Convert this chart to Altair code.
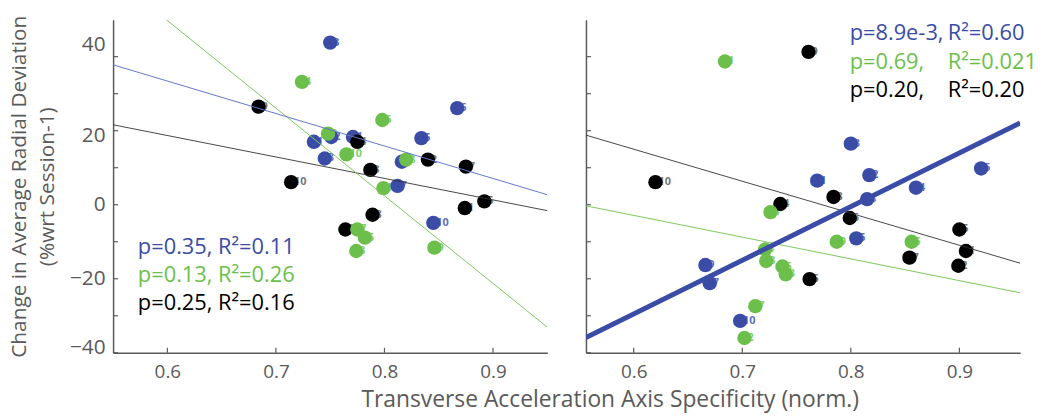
import altair as alt
import pandas as pd

BLUE = "#3a4ca6"
GREEN = "#6cbf4a"
BLACK = "#000000"
AXIS_GRAY = "#5a5a5a"
FONT = "Open Sans"

# ---------------- left panel data ----------------
L_blue_x = [0.750, 0.867, 0.735, 0.751, 0.771, 0.745, 0.834, 0.816, 0.812, 0.845]
L_blue_y = [43.8, 26.1, 17.0, 18.3, 18.3, 12.5, 18.0, 11.6, 5.1, -4.9]
L_blue_id = ["3", "6", "1", "2", "4", "8", "5", "9", "7", "10"]
L_green_x = [0.724, 0.798, 0.748, 0.765, 0.820, 0.799, 0.775, 0.782, 0.774, 0.846]
L_green_y = [33.2, 22.9, 19.2, 13.6, 12.2, 4.5, -6.7, -8.9, -12.5, -11.6]
L_green_id = ["4", "6", "2", "10", "8", "1", "7", "5", "3", "9"]
L_black_x = [0.684, 0.775, 0.840, 0.875, 0.787, 0.714, 0.892, 0.874, 0.789, 0.764]
L_black_y = [26.5, 17.0, 12.2, 10.3, 9.4, 6.1, 0.9, -0.9, -2.7, -6.7]
L_black_id = ["9", "4", "2", "7", "3", "10", "5", "1", "8", "6"]

L_fit_x = {"blue": [0.55, 0.95], "green": [0.599, 0.95], "black": [0.55, 0.95]}
L_fit_y = {"blue": [37.8, 2.7], "green": [50.0, -33.1], "black": [21.6, -1.6]}

L_ann = ["p=0.35, R²=0.11", "p=0.13, R²=0.26", "p=0.25, R²=0.16"]

# ---------------- right panel data ----------------
R_blue_x = [0.800, 0.920, 0.769, 0.817, 0.860, 0.815, 0.805, 0.666, 0.670, 0.698]
R_blue_y = [16.5, 9.8, 6.5, 8.0, 4.6, 1.5, -9.1, -16.3, -21.2, -31.4]
R_blue_id = ["3", "6", "1", "2", "4", "8", "5", "9", "7", "10"]
R_green_x = [0.684, 0.726, 0.787, 0.856, 0.721, 0.722, 0.737, 0.740, 0.712, 0.702]
R_green_y = [38.7, -2.0, -10.0, -10.0, -12.1, -15.2, -16.7, -18.8, -27.4, -36.0]
R_green_id = ["1", "4", "9", "5", "8", "3", "6", "3", "7", "2"]
R_black_x = [0.761, 0.620, 0.784, 0.735, 0.799, 0.900, 0.906, 0.854, 0.899, 0.762]
R_black_y = [41.3, 6.1, 2.1, 0.2, -3.6, -6.7, -12.5, -14.3, -16.5, -20.1]
R_black_id = ["9", "10", "8", "4", "6", "5", "1", "7", "2", "5"]

R_fit_x = {"blue": [0.556, 0.956], "green": [0.556, 0.956], "black": [0.556, 0.956]}
R_fit_y = {"blue": [-35.9, 22.1], "green": [-0.3, -23.8], "black": [18.8, -15.8]}

R_ann_p = ["p=8.9e-3,", "p=0.69,", "p=0.20,"]
R_ann_r = ["R²=0.60", "R²=0.021", "R²=0.20"]

ANN_COLORS = [BLUE, GREEN, BLACK]

y_tick_vals = [-40, -30, -20, -10, 0, 10, 20, 30, 40]
y_label_vals = [-40, -20, 0, 20, 40]
x_tick_vals = [0.6, 0.7, 0.8, 0.9]
ref_level = [10]

W, H = 438, 336
Y_DOMAIN = [-40, 50]

DOT_COLOR = {"blue": BLUE, "black": BLACK, "green": GREEN}
LABEL_COLOR = {"blue": "#5f70c4", "black": "#777777", "green": "#86cf68"}
FIT_STYLE_THIN = {"blue": (1.0, "#6577c9"), "green": (1.0, "#7cc85c"), "black": (0.9, "#333333")}

# the printed tick labels sit slightly off their ticks in the original figure
Y_LABEL_SHIFT = {
    "condition": [
        {"test": "datum.value === 40", "value": -12},
        {"test": "datum.value === 20", "value": 5},
        {"test": "datum.value === -40", "value": -5},
    ],
    "value": 0,
}


def series_df(xs, ys, ids):
    return pd.DataFrame({"x": xs, "y": ys, "id": ids})


def panel(series, fit_x, fit_y, x_domain, show_y, thick_blue, ann_layers):
    xs = alt.Scale(domain=x_domain, nice=False, zero=False)
    ys = alt.Scale(domain=Y_DOMAIN, nice=False, zero=False)
    if show_y:
        y_axis = alt.Axis(values=y_label_vals, ticks=False, grid=False, labelPadding=8,
                          labelFontSize=21, labelColor=AXIS_GRAY, labelFont=FONT,
                          labelOffset=Y_LABEL_SHIFT,
                          domainColor=AXIS_GRAY, domainWidth=1.5,
                          title=["Change in Average Radial Deviation", "(%wrt Session-1)"],
                          titleFontSize=21, titleFont=FONT, titleColor=AXIS_GRAY,
                          titleFontWeight="normal", titlePadding=12, titleLineHeight=28)
    else:
        y_axis = alt.Axis(values=y_label_vals, ticks=False, grid=False, labels=False,
                          domainColor=AXIS_GRAY, domainWidth=1.5, title=None)
    x_axis = alt.Axis(values=x_tick_vals, format=".1f", ticks=False, grid=False, labelPadding=10,
                      labelFontSize=19, labelColor=AXIS_GRAY, labelFont=FONT,
                      domainColor=AXIS_GRAY, domainWidth=1.5, title=None)

    base_x = alt.X("x:Q", scale=xs, axis=x_axis)
    base_y = alt.Y("y:Q", scale=ys, axis=y_axis)

    ref = alt.Chart(pd.DataFrame({"y": ref_level})).mark_rule(
        color="#666666", strokeDash=[9, 5], strokeWidth=1.5
    ).encode(y=base_y)

    yt = alt.Chart(pd.DataFrame({"y": y_tick_vals})).mark_rule(color=AXIS_GRAY, strokeWidth=1.2).encode(
        y="y:Q", x=alt.value(0), x2=alt.value(5))
    xt = alt.Chart(pd.DataFrame({"x": x_tick_vals})).mark_rule(color=AXIS_GRAY, strokeWidth=1.2).encode(
        x="x:Q", y=alt.value(H), y2=alt.value(H - 5))

    layers = [ref.encode(x=base_x), yt, xt]
    # session labels drawn first (peeking out from behind the dots)
    for s in ["blue", "black", "green"]:
        layers.append(alt.Chart(series[s]).mark_text(
            align="left", baseline="middle", dx=3, fontSize=11, fontWeight="bold", font=FONT,
            color=LABEL_COLOR[s]).encode(x="x:Q", y="y:Q", text="id:N"))
    for s in ["blue", "black", "green"]:
        layers.append(alt.Chart(series[s]).mark_circle(size=210, opacity=1, color=DOT_COLOR[s]).encode(
            x="x:Q", y="y:Q"))
    for s in ["black", "green", "blue"]:
        d = pd.DataFrame({"x": fit_x[s], "y": fit_y[s]})
        if s == "blue" and thick_blue:
            sw, col = 5, BLUE
        else:
            sw, col = FIT_STYLE_THIN[s]
        layers.append(alt.Chart(d).mark_line(color=col, strokeWidth=sw, clip=True).encode(x="x:Q", y="y:Q"))
    layers += ann_layers
    return alt.layer(*layers).properties(width=W, height=H)


def text_layer(txt, color, px, py):
    return alt.Chart(pd.DataFrame({"t": [txt]})).mark_text(
        align="left", baseline="middle", fontSize=22, font=FONT, color=color
    ).encode(text="t:N", x=alt.value(px), y=alt.value(py))


left_ann = [text_layer(t, c, 25, 229 + 28.5 * i) for i, (t, c) in enumerate(zip(L_ann, ANN_COLORS))]
right_ann = [text_layer(t, c, 266, 14 + 28.5 * i) for i, (t, c) in enumerate(zip(R_ann_p, ANN_COLORS))]
right_ann += [text_layer(t, c, 365, 14 + 28.5 * i) for i, (t, c) in enumerate(zip(R_ann_r, ANN_COLORS))]

left_series = {"blue": series_df(L_blue_x, L_blue_y, L_blue_id),
               "green": series_df(L_green_x, L_green_y, L_green_id),
               "black": series_df(L_black_x, L_black_y, L_black_id)}
right_series = {"blue": series_df(R_blue_x, R_blue_y, R_blue_id),
                "green": series_df(R_green_x, R_green_y, R_green_id),
                "black": series_df(R_black_x, R_black_y, R_black_id)}

left = panel(left_series, L_fit_x, L_fit_y, [0.55, 0.95], True, False, left_ann)
right = panel(right_series, R_fit_x, R_fit_y, [0.556, 0.956], False, True, right_ann)

chart = alt.hconcat(left, right, spacing=38).properties(
    padding={"left": 0, "top": 5, "right": 5, "bottom": 0},
    title=alt.TitleParams("Transverse Acceleration Axis Specificity (norm.)", orient="bottom",
                          anchor="middle", fontSize=23, font=FONT, color=AXIS_GRAY,
                          fontWeight="normal", dx=88, offset=8),
).configure_view(stroke=None).configure_axis(labelFlush=False, labelOverlap=False)

chart.save("out.html", embed_options={"renderer": "svg", "actions": False})
